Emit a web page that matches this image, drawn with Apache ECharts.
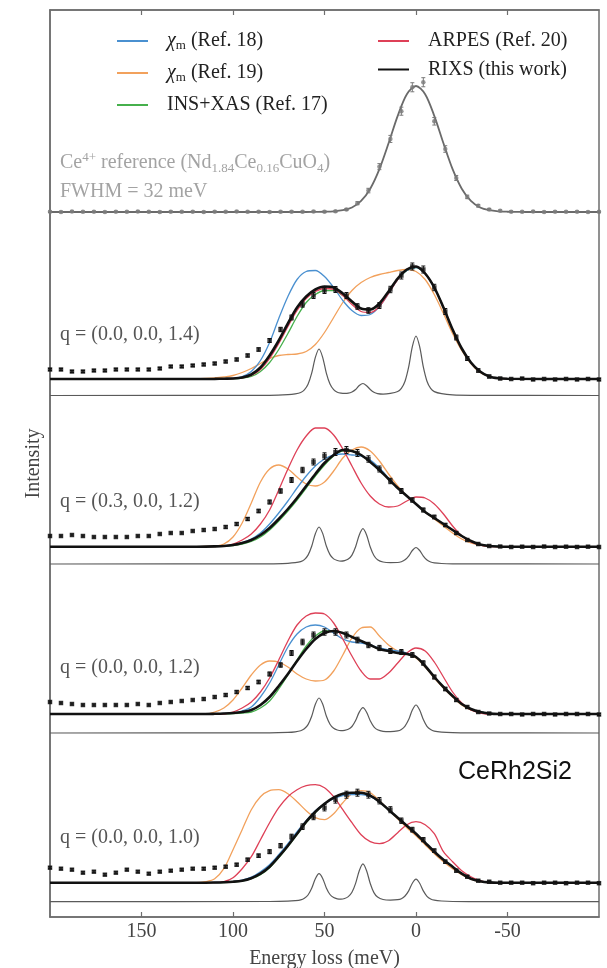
<!DOCTYPE html>
<html>
<head>
<meta charset="utf-8">
<script src="https://cdn.jsdelivr.net/npm/echarts@6/dist/echarts.min.js"></script>
<style>
  html, body { margin: 0; padding: 0; background: #fff; }
  #chart { width: 607px; height: 968px; }
</style>
</head>
<body>
<div id="chart"></div>
<script>
// ---- Energy grids (meV) ----
const X_TICKS = [150, 100, 50, 0, -50];

// measured points (one every 6 meV)
const E_DATA = [200,194,188,182,176,170,164,158,152,146,140,134,128,122,116,110,104,98,92,86,80,74,68,62,56,50,44,38,32,26,20,14,8,2,-4,-10,-16,-22,-28,-34,-40,-46,-52,-58,-64,-70,-76,-82,-88,-94,-100];

// model curves
const E_FIT = [200,150,120,115,110,105,100,95,90,85,80,75,70,65,60,55,50,45,40,35,30,25,20,15,10,5,0,-5,-10,-15,-20,-25,-30,-35,-40,-45,-50,-100];

// crystal-field excitation spectra (narrow lines)
const E_STICK = [200,80,70,66,63,61,59,57,55,53,51,49,47,45,43,41,39,37,35,33,31,29,27,25,23,21,18,14,10,8,6,4,2,0,-2,-4,-6,-8,-10,-14,-20,-30,-100];

// Ce4+ reference (resolution function)
const E_REF = [200,60,55,50,45,40,35,30,25,20,15,10,5,0,-5,-10,-15,-20,-25,-30,-35,-40,-45,-50,-55,-60,-100];

// ---- Ce4+ reference panel ----
const REF_FIT = [0,0,0.001,0.002,0.005,0.014,0.036,0.088,0.185,0.34,0.545,0.763,0.935,1.0,0.935,0.763,0.545,0.34,0.185,0.088,0.036,0.014,0.005,0.002,0.001,0,0];
const REF_DATA = [0.002,0.000,0.003,0.001,0.002,0.000,0.002,0.001,0.003,0.001,0.000,0.002,0.001,0.002,0.000,0.002,0.001,0.003,0.001,0.002,0.000,0.001,0.002,0.001,0.003,0.002,
  0.005,0.02,0.07,0.17,0.36,0.58,0.80,0.99,1.03,0.72,0.50,0.27,0.12,0.05,0.02,0.01,
  0.002,0.001,0.003,0.000,0.002,0.001,0.002,0.000,0.001];
const REF_ERR = [0.006,0.006,0.006,0.006,0.006,0.006,0.006,0.006,0.006,0.006,0.006,0.006,0.006,0.006,0.006,0.006,0.006,0.006,0.006,0.006,0.006,0.006,0.006,0.006,0.006,0.006,
  0.006,0.008,0.012,0.018,0.024,0.028,0.032,0.036,0.036,0.03,0.026,0.02,0.014,0.01,0.008,0.006,
  0.006,0.006,0.006,0.006,0.006,0.006,0.006,0.006,0.006];

// ---- q = (0.0, 0.0, 1.4) ----
const CHI18_Q14 = [0.165,0.165,0.165,0.165,0.166,0.168,0.172,0.19,0.24,0.35,0.53,0.77,0.99,1.16,1.24,1.25,1.19,1.08,0.95,0.85,0.80,0.81,0.89,1.02,1.16,1.25,1.28,1.22,1.08,0.88,0.66,0.47,0.33,0.24,0.19,0.172,0.167,0.165];
const CHI19_Q14 = [0.165,0.165,0.167,0.17,0.175,0.185,0.20,0.23,0.27,0.32,0.37,0.40,0.41,0.415,0.44,0.51,0.63,0.78,0.93,1.05,1.13,1.18,1.21,1.23,1.25,1.26,1.24,1.16,1.01,0.82,0.62,0.45,0.32,0.23,0.19,0.172,0.167,0.165];
const INS_Q14 = [0.165,0.165,0.165,0.165,0.165,0.166,0.168,0.175,0.19,0.24,0.33,0.46,0.62,0.79,0.93,1.01,1.05,1.05,1.00,0.93,0.87,0.86,0.91,1.03,1.16,1.25,1.28,1.22,1.08,0.88,0.66,0.47,0.33,0.24,0.19,0.172,0.167,0.165];
const ARPES_Q14 = [0.165,0.165,0.165,0.165,0.165,0.167,0.17,0.176,0.20,0.26,0.37,0.52,0.69,0.85,0.97,1.04,1.07,1.06,1.00,0.91,0.84,0.83,0.89,1.02,1.16,1.26,1.29,1.22,1.08,0.88,0.66,0.47,0.33,0.24,0.19,0.172,0.167,0.165];
const RIXS_Q14 = [0.165,0.165,0.165,0.165,0.166,0.168,0.17,0.18,0.21,0.28,0.40,0.55,0.72,0.88,0.99,1.06,1.09,1.08,1.02,0.94,0.87,0.86,0.92,1.04,1.17,1.26,1.29,1.22,1.08,0.88,0.66,0.47,0.33,0.24,0.19,0.172,0.167,0.165];
const DATA_Q14 = [0.26,0.26,0.24,0.24,0.25,0.25,0.26,0.26,0.26,0.26,0.27,0.29,0.29,0.30,
  0.31,0.32,0.34,0.36,0.40,0.46,0.55,0.66,0.78,0.91,1.00,1.05,1.06,1.00,0.89,0.85,0.90,1.06,1.20,1.29,1.26,1.08,0.84,0.58,0.37,0.25,0.19,0.17,
  0.165,0.17,0.16,0.165,0.16,0.165,0.16,0.165,0.16];
const ERR_Q14 = [0.01,0.01,0.01,0.01,0.01,0.01,0.01,0.01,0.01,0.01,0.01,0.01,0.01,0.01,
  0.012,0.012,0.013,0.014,0.015,0.017,0.02,0.022,0.025,0.027,0.03,0.03,0.03,0.03,0.028,0.028,0.03,0.032,0.035,0.035,0.035,0.032,0.03,0.025,0.02,0.017,0.014,0.012,
  0.01,0.01,0.01,0.01,0.01,0.01,0.01,0.01,0.01];
const STICK_Q14 = [0,0.002,0.008,0.016,0.03,0.056,0.112,0.223,0.381,0.465,0.382,0.224,0.114,0.058,0.033,0.024,0.021,0.023,0.035,0.06,0.10,0.12,0.098,0.06,0.032,0.019,0.014,0.021,0.04,0.072,0.143,0.286,0.488,0.595,0.488,0.286,0.143,0.071,0.039,0.018,0.006,0.002,0];

// ---- q = (0.3, 0.0, 1.2) ----
const CHI18_Q312 = [0.173,0.173,0.173,0.174,0.176,0.18,0.19,0.215,0.25,0.31,0.40,0.51,0.63,0.76,0.88,0.98,1.05,1.09,1.10,1.09,1.08,1.04,0.96,0.86,0.76,0.68,0.60,0.52,0.46,0.40,0.34,0.28,0.23,0.195,0.18,0.175,0.173,0.173];
const CHI19_Q312 = [0.173,0.173,0.173,0.175,0.18,0.20,0.27,0.41,0.61,0.82,0.95,0.99,0.95,0.87,0.80,0.78,0.82,0.93,1.06,1.14,1.17,1.13,1.03,0.90,0.78,0.68,0.60,0.52,0.45,0.38,0.31,0.25,0.21,0.19,0.178,0.174,0.173,0.173];
const INS_Q312 = [0.173,0.173,0.173,0.173,0.175,0.178,0.185,0.2,0.225,0.27,0.34,0.43,0.53,0.64,0.76,0.88,0.99,1.08,1.13,1.13,1.09,1.02,0.94,0.85,0.76,0.68,0.60,0.52,0.46,0.40,0.34,0.28,0.23,0.195,0.18,0.175,0.173,0.173];
const ARPES_Q312 = [0.173,0.173,0.173,0.173,0.175,0.18,0.20,0.24,0.30,0.40,0.54,0.74,0.95,1.14,1.28,1.36,1.36,1.29,1.15,0.98,0.81,0.68,0.60,0.57,0.58,0.63,0.67,0.66,0.60,0.50,0.38,0.28,0.22,0.19,0.177,0.174,0.173,0.173];
const RIXS_Q312 = [0.173,0.173,0.173,0.174,0.176,0.18,0.19,0.21,0.24,0.29,0.36,0.45,0.55,0.66,0.78,0.90,1.01,1.09,1.14,1.13,1.09,1.02,0.94,0.85,0.76,0.68,0.60,0.52,0.46,0.40,0.34,0.28,0.23,0.195,0.18,0.175,0.173,0.173];
const DATA_Q312 = [0.28,0.28,0.29,0.28,0.27,0.27,0.27,0.27,0.28,0.28,0.30,0.31,0.31,0.33,
  0.34,0.35,0.37,0.40,0.45,0.53,0.62,0.73,0.84,0.94,1.02,1.08,1.12,1.14,1.11,1.05,0.95,0.83,0.73,0.64,0.54,0.47,0.39,0.31,0.24,0.20,0.18,0.175,
  0.17,0.173,0.17,0.175,0.17,0.173,0.17,0.173,0.17];
const ERR_Q312 = [0.01,0.01,0.01,0.01,0.01,0.01,0.01,0.01,0.01,0.01,0.01,0.01,0.01,0.01,
  0.012,0.012,0.013,0.014,0.015,0.017,0.02,0.022,0.025,0.027,0.03,0.032,0.035,0.035,0.035,0.032,0.03,0.027,0.025,0.022,0.02,0.018,0.016,0.014,0.012,0.011,0.01,0.01,
  0.01,0.01,0.01,0.01,0.01,0.01,0.01,0.01,0.01];
const STICK_Q312 = [0,0.002,0.007,0.013,0.024,0.044,0.089,0.178,0.303,0.37,0.306,0.18,0.094,0.051,0.035,0.029,0.034,0.049,0.089,0.172,0.29,0.353,0.29,0.17,0.085,0.043,0.02,0.014,0.015,0.023,0.042,0.079,0.135,0.165,0.135,0.079,0.04,0.02,0.011,0.005,0.002,0.001,0];

// ---- q = (0.0, 0.0, 1.2) ----
const CHI18_Q12 = [0.19,0.19,0.19,0.19,0.192,0.195,0.20,0.22,0.26,0.36,0.50,0.68,0.86,0.99,1.06,1.08,1.06,1.00,0.94,0.91,0.90,0.88,0.85,0.83,0.82,0.80,0.76,0.67,0.56,0.46,0.37,0.29,0.24,0.21,0.195,0.19,0.19,0.19];
const CHI19_Q12 = [0.19,0.19,0.19,0.19,0.21,0.25,0.33,0.45,0.58,0.68,0.72,0.71,0.66,0.59,0.54,0.52,0.53,0.62,0.78,0.95,1.05,1.06,0.97,0.88,0.82,0.79,0.75,0.66,0.55,0.45,0.36,0.28,0.23,0.205,0.193,0.19,0.19,0.19];
const INS_Q12 = [0.19,0.19,0.19,0.19,0.19,0.192,0.195,0.20,0.21,0.25,0.32,0.44,0.58,0.73,0.87,0.97,1.02,1.02,1.00,0.96,0.92,0.88,0.84,0.82,0.80,0.79,0.76,0.67,0.56,0.46,0.37,0.29,0.24,0.21,0.195,0.19,0.19,0.19];
const ARPES_Q12 = [0.19,0.19,0.19,0.19,0.19,0.19,0.21,0.25,0.31,0.41,0.55,0.73,0.92,1.08,1.17,1.20,1.19,1.10,0.94,0.77,0.62,0.54,0.54,0.60,0.70,0.80,0.85,0.82,0.71,0.56,0.41,0.30,0.23,0.20,0.19,0.19,0.19,0.19];
const RIXS_Q12 = [0.19,0.19,0.19,0.19,0.192,0.195,0.20,0.21,0.23,0.28,0.36,0.47,0.59,0.72,0.84,0.94,1.00,1.02,1.00,0.96,0.92,0.88,0.84,0.82,0.80,0.79,0.76,0.67,0.56,0.46,0.37,0.29,0.24,0.21,0.195,0.19,0.19,0.19];
const DATA_Q12 = [0.31,0.30,0.29,0.28,0.28,0.28,0.28,0.28,0.29,0.28,0.30,0.31,0.32,0.33,
  0.34,0.36,0.38,0.41,0.45,0.51,0.59,0.68,0.80,0.91,0.98,1.01,1.01,0.98,0.93,0.88,0.85,0.82,0.81,0.78,0.70,0.56,0.44,0.33,0.26,0.21,0.195,0.19,
  0.19,0.185,0.19,0.19,0.185,0.19,0.19,0.19,0.185];
const ERR_Q12 = [0.01,0.01,0.01,0.01,0.01,0.01,0.01,0.01,0.01,0.01,0.01,0.01,0.01,0.01,
  0.012,0.012,0.013,0.014,0.015,0.017,0.02,0.022,0.025,0.028,0.03,0.032,0.032,0.03,0.028,0.027,0.026,0.025,0.025,0.024,0.022,0.02,0.017,0.014,0.012,0.011,0.01,0.01,
  0.01,0.01,0.01,0.01,0.01,0.01,0.01,0.01,0.01];
const STICK_Q12 = [0,0.002,0.006,0.012,0.023,0.042,0.084,0.168,0.287,0.35,0.289,0.17,0.088,0.047,0.03,0.024,0.027,0.037,0.065,0.124,0.209,0.253,0.208,0.122,0.062,0.032,0.017,0.014,0.021,0.036,0.069,0.134,0.23,0.28,0.23,0.134,0.067,0.034,0.018,0.008,0.003,0.001,0];

// ---- q = (0.0, 0.0, 1.0) ----
const CHI18_Q10 = [0.19,0.19,0.19,0.19,0.192,0.195,0.20,0.215,0.245,0.30,0.37,0.47,0.58,0.70,0.81,0.91,0.98,1.03,1.06,1.07,1.07,1.05,1.00,0.92,0.84,0.76,0.68,0.59,0.50,0.42,0.35,0.28,0.23,0.205,0.193,0.19,0.19,0.19];
const CHI19_Q10 = [0.19,0.19,0.19,0.20,0.23,0.33,0.52,0.72,0.92,1.05,1.11,1.12,1.08,1.00,0.91,0.84,0.82,0.88,0.99,1.08,1.11,1.09,1.01,0.92,0.83,0.74,0.66,0.57,0.48,0.40,0.33,0.27,0.225,0.20,0.193,0.19,0.19,0.19];
const INS_Q10 = [0.19,0.19,0.19,0.19,0.19,0.192,0.197,0.205,0.23,0.27,0.34,0.44,0.55,0.67,0.79,0.89,0.98,1.04,1.08,1.09,1.09,1.06,1.00,0.92,0.84,0.76,0.68,0.59,0.50,0.42,0.35,0.28,0.23,0.205,0.193,0.19,0.19,0.19];
const ARPES_Q10 = [0.19,0.19,0.19,0.19,0.19,0.20,0.24,0.33,0.45,0.62,0.79,0.94,1.05,1.12,1.16,1.17,1.14,1.05,0.92,0.79,0.67,0.60,0.58,0.61,0.69,0.77,0.80,0.77,0.68,0.50,0.40,0.31,0.25,0.21,0.19,0.19,0.19,0.19];
const RIXS_Q10 = [0.19,0.19,0.19,0.19,0.192,0.195,0.20,0.21,0.235,0.28,0.35,0.45,0.56,0.68,0.80,0.90,0.98,1.04,1.08,1.09,1.09,1.06,1.00,0.92,0.84,0.76,0.68,0.59,0.50,0.42,0.35,0.28,0.23,0.205,0.193,0.19,0.19,0.19];
const DATA_Q10 = [0.34,0.33,0.32,0.29,0.30,0.27,0.29,0.32,0.30,0.28,0.30,0.31,0.32,0.33,
  0.33,0.34,0.35,0.37,0.42,0.46,0.50,0.56,0.65,0.75,0.85,0.94,1.02,1.07,1.09,1.07,1.01,0.92,0.81,0.72,0.62,0.51,0.40,0.31,0.25,0.21,0.20,0.19,
  0.19,0.19,0.185,0.19,0.19,0.185,0.19,0.19,0.185];
const ERR_Q10 = [0.01,0.01,0.01,0.01,0.01,0.01,0.01,0.01,0.01,0.01,0.01,0.01,0.01,0.01,
  0.012,0.012,0.013,0.014,0.015,0.017,0.02,0.022,0.025,0.028,0.03,0.032,0.034,0.035,0.035,0.034,0.032,0.03,0.027,0.024,0.021,0.018,0.016,0.014,0.012,0.011,0.01,0.01,
  0.01,0.01,0.01,0.01,0.01,0.01,0.01,0.01,0.01];
const STICK_Q10 = [0,0.002,0.005,0.01,0.018,0.034,0.067,0.134,0.23,0.28,0.233,0.138,0.072,0.041,0.029,0.026,0.032,0.051,0.094,0.183,0.31,0.378,0.31,0.182,0.091,0.047,0.022,0.016,0.02,0.03,0.057,0.108,0.185,0.225,0.185,0.108,0.054,0.027,0.015,0.007,0.002,0.001,0];

// ---- labels ----
const Q_LABELS = ['q = (0.0, 0.0, 1.4)', 'q = (0.3, 0.0, 1.2)', 'q = (0.0, 0.0, 1.2)', 'q = (0.0, 0.0, 1.0)'];
const LEGEND_LABELS = {
  chi18: '{chi|χ}{sub|m}{t| (Ref. 18)}',
  chi19: '{chi|χ}{sub|m}{t| (Ref. 19)}',
  insxas: '{t|INS+XAS (Ref. 17)}',
  arpes: '{t|ARPES (Ref. 20)}',
  rixs: '{t|RIXS (this work)}'
};

// ---- styling / layout ----
const SERIF = '"Liberation Serif", "Times New Roman", Times, serif';
const SANS = '"Liberation Sans", Arial, Helvetica, sans-serif';
const FRAME_COLOR = '#6e6e6e';
const COLORS = { chi18: '#4a90d0', chi19: '#f2a15c', insxas: '#46b04c', arpes: '#de4057', rixs: '#111111' };
const PLOT_LEFT = 50, PLOT_RIGHT = 8, PLOT_TOP = 10, PLOT_BOTTOM = 51;
// zero line (px from top) and px per intensity unit of each stacked panel
const PANEL_BASE = [212, 395.5, 564, 733, 901.7];
const PANEL_UNIT = [126, 100, 100, 100, 100];

const panelSets = [
  { chi18: CHI18_Q14, chi19: CHI19_Q14, insxas: INS_Q14, arpes: ARPES_Q14, rixs: RIXS_Q14, data: DATA_Q14, err: ERR_Q14, stick: STICK_Q14 },
  { chi18: CHI18_Q312, chi19: CHI19_Q312, insxas: INS_Q312, arpes: ARPES_Q312, rixs: RIXS_Q312, data: DATA_Q312, err: ERR_Q312, stick: STICK_Q312 },
  { chi18: CHI18_Q12, chi19: CHI19_Q12, insxas: INS_Q12, arpes: ARPES_Q12, rixs: RIXS_Q12, data: DATA_Q12, err: ERR_Q12, stick: STICK_Q12 },
  { chi18: CHI18_Q10, chi19: CHI19_Q10, insxas: INS_Q10, arpes: ARPES_Q10, rixs: RIXS_Q10, data: DATA_Q10, err: ERR_Q10, stick: STICK_Q10 }
];

const pairs = (xs, ys) => xs.map((e, i) => [e, ys[i]]);

// grid 0 = outer frame with the energy axes; grids 1..5 = stacked panels
const grids = [{
  left: PLOT_LEFT, right: PLOT_RIGHT, top: PLOT_TOP, bottom: PLOT_BOTTOM,
  show: true, borderColor: FRAME_COLOR, borderWidth: 1.5, backgroundColor: 'transparent',
  containLabel: false, outerBoundsMode: 'none'
}];
const xAxes = [
  {
    gridIndex: 0, type: 'value', min: -100, max: 200, inverse: true, position: 'bottom',
    axisLine: { show: true, onZero: false, lineStyle: { color: FRAME_COLOR, width: 1.5 } },
    axisTick: { show: true, inside: true, length: 5, customValues: X_TICKS, lineStyle: { color: FRAME_COLOR, width: 1.2 } },
    axisLabel: { show: true, customValues: X_TICKS, margin: 5, color: '#444', fontFamily: SERIF, fontSize: 20 },
    splitLine: { show: false },
    name: 'Energy loss (meV)', nameLocation: 'middle', nameGap: 32,
    nameTextStyle: { color: '#444', fontFamily: SERIF, fontSize: 20 }
  },
  {
    gridIndex: 0, type: 'value', min: -100, max: 200, inverse: true, position: 'top',
    axisLine: { show: true, onZero: false, lineStyle: { color: FRAME_COLOR, width: 1.5 } },
    axisTick: { show: true, inside: true, length: 5, customValues: X_TICKS, lineStyle: { color: FRAME_COLOR, width: 1.2 } },
    axisLabel: { show: false }, splitLine: { show: false }
  }
];
const yAxes = [{
  gridIndex: 0, type: 'value', min: 0, max: 1, position: 'left',
  axisLine: { show: true, onZero: false, lineStyle: { color: FRAME_COLOR, width: 1.5 } },
  axisTick: { show: false }, axisLabel: { show: false }, splitLine: { show: false },
  name: 'Intensity', nameLocation: 'middle', nameRotate: 90, nameGap: 6,
  nameTextStyle: { color: '#444', fontFamily: SERIF, fontSize: 20 }
}];

PANEL_BASE.forEach((base, k) => {
  const unit = PANEL_UNIT[k];
  grids.push({ left: PLOT_LEFT, right: PLOT_RIGHT, top: base - 200, height: 220, containLabel: false, outerBoundsMode: 'none' });
  xAxes.push({ gridIndex: k + 1, type: 'value', min: -100, max: 200, inverse: true, show: false });
  yAxes.push({ gridIndex: k + 1, type: 'value', min: -20 / unit, max: 200 / unit, show: false });
});

function curve(name, k, xs, ys, color, width, z) {
  return {
    type: 'line', name, xAxisIndex: k + 2, yAxisIndex: k + 1,
    data: pairs(xs, ys), smooth: 0.3, symbol: 'none', showSymbol: false,
    lineStyle: { color, width }, itemStyle: { color },
    clip: false, silent: true, z
  };
}
function errorBars(k, ys, errs, color, z) {
  return {
    type: 'custom', xAxisIndex: k + 2, yAxisIndex: k + 1, silent: true, clip: false, z,
    data: E_DATA.map((e, i) => [e, ys[i], errs[i]]),
    encode: { x: 0, y: 1 },
    renderItem: (params, api) => {
      const e = api.value(0), v = api.value(1), d = api.value(2);
      const hi = api.coord([e, v + d]);
      const lo = api.coord([e, v - d]);
      const st = { stroke: color, lineWidth: 1 };
      return {
        type: 'group', children: [
          { type: 'line', shape: { x1: hi[0], y1: hi[1], x2: lo[0], y2: lo[1] }, style: st },
          { type: 'line', shape: { x1: hi[0] - 2, y1: hi[1], x2: hi[0] + 2, y2: hi[1] }, style: st },
          { type: 'line', shape: { x1: lo[0] - 2, y1: lo[1], x2: lo[0] + 2, y2: lo[1] }, style: st }
        ]
      };
    }
  };
}
function points(k, ys, color, symbol, size, z) {
  return {
    type: 'scatter', xAxisIndex: k + 2, yAxisIndex: k + 1, silent: true, clip: false, z,
    data: pairs(E_DATA, ys), symbol, symbolSize: size, itemStyle: { color }
  };
}

const series = [];
// Ce4+ reference panel
series.push(curve('ref', 0, E_REF, REF_FIT, '#6a6a6a', 1.8, 3));
series.push(errorBars(0, REF_DATA, REF_ERR, '#7a7a7a', 4));
series.push(points(0, REF_DATA, '#7a7a7a', 'circle', 4.5, 5));

// q panels
panelSets.forEach((p, j) => {
  const k = j + 1;
  series.push(curve('stick', k, E_STICK, p.stick, '#5a5a5a', 1.2, 2));
  series.push(curve('chi19', k, E_FIT, p.chi19, COLORS.chi19, 1.3, 3));
  series.push(curve('insxas', k, E_FIT, p.insxas, COLORS.insxas, 1.3, 3));
  series.push(curve('chi18', k, E_FIT, p.chi18, COLORS.chi18, 1.3, 3));
  series.push(curve('arpes', k, E_FIT, p.arpes, COLORS.arpes, 1.3, 3));
  series.push(curve('rixs', k, E_FIT, p.rixs, COLORS.rixs, 2.6, 4));
  series.push(errorBars(k, p.data, p.err, '#111', 5));
  series.push(points(k, p.data, '#111', 'rect', 4.5, 6));
});

const legendText = {
  fontFamily: SERIF, fontSize: 20, color: '#222', padding: [0, 0, 0, 14],
  rich: {
    t: { fontFamily: SERIF, fontSize: 20, color: '#222', lineHeight: 22, verticalAlign: 'middle' },
    chi: { fontFamily: SERIF, fontSize: 20, color: '#222', fontStyle: 'italic', lineHeight: 22, verticalAlign: 'middle' },
    sub: { fontFamily: SERIF, fontSize: 13, color: '#222', lineHeight: 22, verticalAlign: 'bottom' }
  }
};
const legendBase = {
  orient: 'vertical', icon: 'rect', itemWidth: 31, itemHeight: 2,
  selectedMode: false, formatter: (n) => LEGEND_LABELS[n], textStyle: legendText,
  padding: 0
};

const rich = {
  sup: { fontFamily: SERIF, fontSize: 13, fill: '#a3a3a3', lineHeight: 24, verticalAlign: 'top' },
  sub: { fontFamily: SERIF, fontSize: 13, fill: '#a3a3a3', lineHeight: 24, verticalAlign: 'bottom' },
  t: { fontFamily: SERIF, fontSize: 20, fill: '#a3a3a3', lineHeight: 24, verticalAlign: 'middle' }
};

const graphics = [
  { type: 'text', x: 60, y: 163, silent: true, style: {
      text: '{t|Ce}{sup|4+}{t| reference (Nd}{sub|1.84}{t|Ce}{sub|0.16}{t|CuO}{sub|4}{t|)}',
      rich, verticalAlign: 'middle', fill: '#a3a3a3', font: '20px ' + SERIF } },
  { type: 'text', x: 60, y: 192, silent: true, style: {
      text: 'FWHM = 32 meV', fill: '#a3a3a3', font: '20px ' + SERIF, verticalAlign: 'middle' } },
  { type: 'text', x: 458, y: 772, silent: true, style: {
      text: 'CeRh2Si2', fill: '#111', font: '25px ' + SANS, verticalAlign: 'middle' } }
];
const Q_LABEL_Y = [335, 502, 668, 838];
Q_LABELS.forEach((txt, i) => {
  graphics.push({ type: 'text', x: 60, y: Q_LABEL_Y[i], silent: true, style: {
    text: txt, fill: '#555', font: '20px ' + SERIF, verticalAlign: 'middle' } });
});

const chart = echarts.init(document.getElementById('chart'), null, { renderer: 'canvas' });
chart.setOption({
  animation: false,
  backgroundColor: '#fff',
  textStyle: { fontFamily: SERIF },
  grid: grids,
  xAxis: xAxes,
  yAxis: yAxes,
  legend: [
    Object.assign({}, legendBase, { left: 117, top: 31, itemGap: 11, data: ['chi18', 'chi19', 'insxas'] }),
    Object.assign({}, legendBase, { left: 378, top: 31, itemGap: 8.5, data: ['arpes', 'rixs'] })
  ],
  graphic: graphics,
  series
});
</script>
</body>
</html>
